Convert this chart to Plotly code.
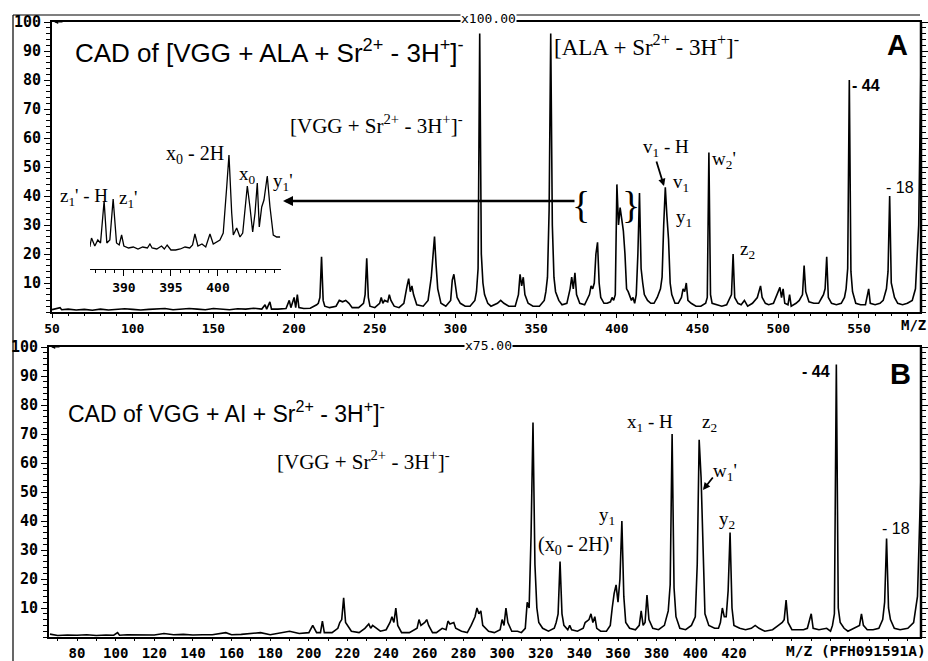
import plotly.graph_objects as go

W, H = 928, 661


def px(x):
    return x / W


def py(y):
    return 1 - y / H


# ---------------- data ----------------
# Panel A profile: (m/z, relative intensity %)
a_profile = [
    (50, 0.8), (55, 1.5), (56, 0.8), (60, 1.0), (65, 0.7), (70, 0.9), (75, 0.6), (80, 1.0),
    (85, 0.7), (90, 0.8), (95, 1.1), (100, 0.9), (105, 0.7), (110, 0.9), (115, 1.1), (120, 1.2),
    (125, 0.8), (130, 0.9), (135, 1.2), (140, 1.0), (145, 0.8), (150, 1.2), (155, 0.9),
    (160, 0.8), (165, 1.1), (170, 1.0), (175, 1.3), (180, 1.0), (182, 2.5), (183, 1.0),
    (185, 3.5), (186, 1.0), (190, 1.0), (195, 1.2), (197, 4.0), (198, 1.5), (200, 5.0),
    (201, 1.5), (202, 6.0), (203, 1.5), (206, 1.2), (210, 1.3), (214, 2.5), (215, 3.0),
    (216, 5.0), (217, 19.0), (218, 4.0), (219, 2.0), (222, 1.5), (226, 2.0), (228, 4.0),
    (230, 3.5), (232, 4.0), (234, 3.0), (236, 1.5), (240, 1.5), (243, 3.0), (244, 6.0),
    (245, 18.5), (246, 5.0), (247, 2.0), (250, 1.5), (253, 3.0), (254, 5.0), (255, 3.0),
    (256, 4.0), (258, 3.5), (259, 6.0), (260, 4.0), (262, 2.0), (265, 1.5), (268, 3.0),
    (270, 9.0), (271, 11.5), (272, 7.0), (273, 9.0), (274, 6.0), (276, 2.5), (280, 2.0),
    (283, 4.0), (285, 12.0), (286, 20.0), (287, 26.0), (288, 16.0), (289, 8.0), (291, 3.0),
    (294, 2.0), (297, 4.0), (298, 11.0), (299, 13.0), (300, 8.0), (301, 5.0), (303, 3.0),
    (306, 2.0), (309, 2.0), (312, 4.0), (313, 7.0), (314, 15.0), (315, 96.0), (316, 20.0),
    (317, 10.0), (318, 6.0), (320, 3.0), (322, 2.0), (326, 3.0), (328, 4.0), (330, 3.0),
    (333, 2.0), (337, 2.0), (339, 6.0), (340, 13.0), (341, 9.0), (342, 12.0), (343, 6.0),
    (345, 3.0), (348, 2.0), (352, 2.0), (355, 4.0), (356, 7.0), (357, 12.0), (358, 35.0),
    (359, 96.0), (360, 30.0), (361, 12.0), (362, 7.0), (364, 4.0), (366, 2.5), (369, 3.0),
    (371, 8.0), (372, 12.0), (373, 8.0), (374, 13.5), (375, 6.0), (377, 3.0), (380, 2.5),
    (383, 6.0), (384, 9.0), (385, 8.0), (386, 10.0), (387, 20.0), (388, 24.0), (389, 10.0),
    (390, 5.0), (392, 3.0), (394, 3.0), (396, 3.5), (397, 5.0), (398, 4.0), (399, 6.0),
    (400, 44.0), (401, 30.0), (402, 36.0), (403, 32.0), (404, 28.0), (405, 20.0), (406, 8.0),
    (407, 7.0), (409, 4.0), (410, 5.0), (411, 3.0), (412, 6.0), (413, 20.0), (414, 41.0),
    (415, 15.0), (416, 10.0), (417, 6.0), (419, 4.0), (421, 3.0), (423, 3.0), (425, 5.0),
    (427, 8.0), (428, 12.0), (429, 30.0), (430, 43.0), (431, 33.0), (432, 25.0), (433, 10.0),
    (434, 6.0), (436, 3.0), (438, 3.0), (440, 5.0), (441, 8.0), (442, 7.0), (443, 10.0),
    (444, 4.0), (446, 3.0), (449, 2.0), (452, 2.0), (455, 3.0), (456, 5.0), (457, 55.0),
    (458, 6.0), (459, 3.0), (462, 2.5), (465, 2.0), (468, 2.5), (471, 6.0), (472, 20.0),
    (473, 5.0), (475, 3.0), (477, 2.5), (479, 4.0), (481, 2.0), (484, 3.0), (487, 5.0),
    (489, 9.0), (490, 5.0), (492, 3.0), (494, 2.5), (497, 3.0), (499, 6.0), (501, 8.5),
    (502, 5.0), (503, 8.0), (504, 3.0), (506, 2.5), (507, 6.0), (508, 2.0), (511, 3.0),
    (513, 4.0), (515, 6.0), (516, 16.0), (517, 7.0), (519, 3.5), (522, 3.0), (525, 3.0),
    (527, 5.0), (528, 6.0), (529, 8.0), (530, 19.0), (531, 5.0), (533, 3.0), (536, 2.5),
    (539, 3.0), (541, 5.0), (542, 8.0), (543, 15.0), (544, 80.0), (545, 14.0), (546, 7.0),
    (548, 3.0), (551, 2.5), (554, 2.5), (556, 8.0), (557, 3.0), (560, 2.5), (563, 3.0),
    (565, 4.0), (567, 8.0), (568, 14.0), (569, 40.0), (570, 10.0), (572, 5.0), (574, 3.0),
    (577, 2.5), (580, 3.0), (583, 4.0), (585, 8.0), (587, 30.0), (589, 110.0),
]

# Panel B profile: (m/z, relative intensity %)
b_profile = [
    (66, 1.0), (70, 0.5), (75, 0.7), (80, 0.6), (85, 0.8), (90, 0.5), (95, 0.7), (99, 0.6),
    (101, 1.5), (102, 0.6), (106, 0.8), (110, 0.8), (115, 0.6), (120, 0.7), (125, 1.2),
    (130, 0.8), (135, 0.9), (140, 0.7), (145, 0.8), (150, 0.8), (157, 1.5), (160, 0.8),
    (165, 0.9), (170, 1.2), (175, 1.5), (180, 0.8), (186, 1.5), (190, 2.0), (195, 1.2),
    (200, 1.5), (202, 4.0), (204, 1.5), (206, 1.5), (207, 5.5), (208, 1.5), (212, 1.5),
    (215, 3.0), (216, 5.0), (217, 6.0), (218, 13.5), (219, 5.0), (220, 4.0), (222, 2.0),
    (226, 1.5), (229, 3.0), (231, 4.5), (232, 3.0), (233, 4.0), (235, 3.0), (237, 2.0),
    (240, 2.5), (242, 5.0), (243, 7.0), (244, 5.0), (245, 10.0), (246, 4.0), (248, 1.5),
    (252, 1.5), (256, 3.0), (257, 6.0), (258, 4.0), (260, 5.0), (261, 6.0), (262, 4.0),
    (264, 1.5), (266, 1.5), (269, 3.0), (271, 2.5), (272, 5.5), (273, 4.5), (275, 5.0),
    (276, 3.0), (279, 2.0), (282, 1.5), (284, 4.0), (286, 7.0), (287, 10.0), (288, 8.0),
    (289, 9.0), (290, 4.0), (293, 2.0), (296, 1.5), (299, 2.5), (300, 6.0), (301, 4.0),
    (302, 10.0), (303, 5.0), (305, 2.0), (308, 2.0), (310, 1.5), (312, 3.0), (313, 12.0),
    (314, 10.0), (315, 35.0), (316, 74.0), (317, 25.0), (318, 10.0), (319, 5.0), (321, 3.0),
    (324, 2.0), (327, 3.0), (328, 5.0), (329, 8.0), (330, 26.0), (331, 8.0), (332, 4.0),
    (334, 2.5), (335, 4.0), (336, 2.5), (339, 2.0), (342, 3.0), (343, 5.0), (345, 6.0),
    (346, 8.0), (347, 5.0), (348, 7.0), (349, 3.0), (351, 2.0), (354, 2.0), (356, 4.0),
    (357, 10.0), (358, 15.0), (359, 18.0), (360, 12.0), (361, 20.0), (362, 40.0), (363, 14.0),
    (364, 5.0), (366, 3.0), (369, 2.5), (371, 4.0), (372, 9.0), (373, 4.0), (374, 5.0),
    (375, 14.5), (376, 6.0), (378, 3.0), (381, 2.5), (384, 4.0), (385, 7.0), (386, 9.0),
    (387, 18.0), (388, 70.0), (389, 17.0), (390, 7.0), (392, 3.0), (395, 2.5), (398, 4.0),
    (400, 7.0), (401, 25.0), (402, 68.0), (403, 55.0), (404, 30.0), (405, 8.0), (407, 4.0),
    (410, 3.0), (412, 3.0), (413, 5.0), (414, 10.0), (415, 7.0), (416, 7.0), (417, 16.0),
    (418, 36.0), (419, 10.0), (420, 4.0), (423, 3.0), (426, 2.5), (429, 3.0), (431, 4.0),
    (433, 3.0), (436, 2.0), (440, 2.5), (443, 4.0), (445, 5.0), (446, 6.0), (447, 12.7),
    (448, 5.0), (450, 2.5), (453, 2.5), (456, 2.5), (458, 3.0), (460, 8.0), (461, 3.0),
    (464, 2.5), (468, 3.0), (470, 2.0), (471, 4.0), (472, 8.0), (473, 94.0), (474, 10.0),
    (475, 5.0), (477, 3.0), (479, 2.0), (482, 3.0), (485, 4.0), (486, 8.0), (487, 4.0),
    (489, 2.5), (492, 2.5), (495, 3.0), (497, 6.0), (498, 12.0), (499, 34.0), (500, 10.0),
    (501, 6.0), (503, 3.0), (506, 2.5), (510, 3.0), (513, 5.0), (515, 14.0), (517, 60.0),
    (518, 110.0),
]

# Inset of panel A (m/z 386-407), arbitrary units
inset_profile = [
    (386.38, 22), (386.56, 31), (386.91, 23), (387.23, 29), (387.52, 26), (387.9, 68),
    (388.19, 26), (388.51, 29), (388.86, 70), (389.22, 26), (389.5, 24), (389.76, 34),
    (390.0, 23), (390.5, 21), (391.0, 22), (391.5, 20), (392.0, 22), (392.5, 21),
    (392.77, 25), (393.0, 21), (393.5, 20), (394.0, 23), (394.3, 20), (394.6, 24),
    (395.0, 19), (395.5, 19), (396.0, 20), (396.5, 22), (397.0, 21), (397.3, 24),
    (397.55, 35), (397.87, 23), (398.3, 25), (398.7, 22), (399.15, 35), (399.5, 25),
    (400.21, 29), (400.56, 36), (400.93, 82), (401.17, 114), (401.46, 56), (401.63, 34),
    (401.99, 41), (402.34, 32), (402.63, 36), (402.87, 62), (403.12, 83), (403.4, 62),
    (403.69, 37), (403.94, 56), (404.18, 86), (404.39, 42), (404.65, 62), (404.89, 69),
    (405.24, 93), (405.53, 62), (405.88, 34), (406.24, 32), (406.6, 32),
]

a_mz = [p[0] for p in a_profile]
a_int = [p[1] for p in a_profile]
b_mz = [p[0] for p in b_profile]
b_int = [p[1] for p in b_profile]
i_mz = [p[0] for p in inset_profile]
i_int = [p[1] for p in inset_profile]

a_xticks = [50, 100, 150, 200, 250, 300, 350, 400, 450, 500, 550]
b_xticks = [80, 100, 120, 140, 160, 180, 200, 220, 240, 260, 280, 300, 320, 340, 360, 380, 400, 420]
y_ticks = [10, 20, 30, 40, 50, 60, 70, 80, 90, 100]
inset_ticks = [390, 395, 400]

# ---------------- figure ----------------
MONO_FAM = "DejaVu Sans Mono"
SANS = "Liberation Sans"
SERIF = "Liberation Serif"
LINE = dict(color="black", width=1.6)


def mono(size):
    return dict(family=MONO_FAM, size=size, color="black", weight="bold")


fig = go.Figure()
fig.add_trace(go.Scatter(x=a_mz, y=a_int, mode="lines", line=LINE, xaxis="x", yaxis="y", hoverinfo="skip"))
fig.add_trace(go.Scatter(x=b_mz, y=b_int, mode="lines", line=LINE, xaxis="x2", yaxis="y2", hoverinfo="skip"))
fig.add_trace(go.Scatter(x=i_mz, y=i_int, mode="lines", line=dict(color="black", width=1.3),
                         xaxis="x3", yaxis="y3", hoverinfo="skip"))


def xax(domain, rng, anchor, tickvals, minor_dtick, fsize, tlen):
    return dict(domain=domain, range=rng, anchor=anchor, tickvals=tickvals, ticktext=[str(v) for v in tickvals],
                showline=True, linecolor="black", linewidth=1.5, mirror=True,
                ticks="outside", ticklen=tlen, tickwidth=1, tickcolor="black",
                minor=dict(dtick=minor_dtick, tick0=0, ticks="outside", ticklen=2, tickcolor="black", showgrid=False),
                showgrid=False, zeroline=False, tickfont=mono(fsize), fixedrange=True)


def yax(domain, anchor):
    return dict(domain=domain, range=[0, 100], anchor=anchor, tickvals=y_ticks, ticktext=[str(v) for v in y_ticks],
                showline=True, linecolor="black", linewidth=2, mirror="allticks",
                ticks="outside", ticklen=6, tickwidth=1.2, tickcolor="black",
                minor=dict(dtick=2, tick0=0, ticks="outside", ticklen=4, tickwidth=1.2, tickcolor="black",
                           showgrid=False),
                showgrid=False, zeroline=False, tickfont=mono(15), fixedrange=True)


fig.update_layout(
    width=W, height=H, margin=dict(l=0, r=0, t=0, b=0, autoexpand=False),
    paper_bgcolor="white", plot_bgcolor="rgba(0,0,0,0)", showlegend=False,
    xaxis=xax([px(52), px(920)], [50, 587.8], "y", a_xticks, 10, 13, 4),
    yaxis=yax([py(312), py(22)], "x"),
    xaxis2=xax([px(49), px(920)], [65.5, 516.3], "y2", b_xticks, 10, 14, 2),
    yaxis2=yax([py(637), py(347)], "x2"),
    xaxis3=dict(domain=[px(90), px(281)], range=[386.4, 406.7], anchor="y3", tickvals=inset_ticks,
                showline=True, linecolor="black", linewidth=1.2, ticks="outside", ticklen=6,
                tickcolor="black", minor=dict(dtick=1, tick0=0, ticks="outside", ticklen=3, tickcolor="black"),
                showgrid=False, zeroline=False, tickfont=mono(13), fixedrange=True),
    yaxis3=dict(domain=[py(269), py(150)], range=[0, 119], anchor="x3", visible=False, fixedrange=True),
)

# outer border (left and top)
fig.add_shape(type="line", xref="paper", yref="paper", x0=px(13), x1=px(13), y0=py(15), y1=0,
              line=dict(color="black", width=1.2))
fig.add_shape(type="line", xref="paper", yref="paper", x0=px(13), x1=px(920), y0=py(15), y1=py(15),
              line=dict(color="black", width=1.2))
# heavy right-hand frame of each panel
for y_top, y_bot in ((22, 312), (347, 637)):
    fig.add_shape(type="line", xref="paper", yref="paper", x0=px(921), x1=px(921), y0=py(y_top), y1=py(y_bot),
                  line=dict(color="black", width=2.5))


def T(text, x, y, size, family=SANS, xanchor="left", bold=False, bg=None):
    fig.add_annotation(text=text, x=px(x), y=py(y), xref="paper", yref="paper", showarrow=False,
                       xanchor=xanchor, yanchor="middle",
                       font=dict(family=family, size=size, color="black", weight="bold" if bold else "normal"),
                       bgcolor=bg, borderpad=0)


def ARROW(x_head, y_head, x_tail, y_tail, width=1.5, head=2, size=1.0):
    fig.add_annotation(text="", x=px(x_head), y=py(y_head), xref="paper", yref="paper",
                       ax=x_tail - x_head, ay=y_tail - y_head, axref="pixel", ayref="pixel",
                       showarrow=True, arrowhead=head, arrowwidth=width, arrowsize=size, arrowcolor="black")


# ---- Panel A texts
T("CAD of [VGG + ALA + Sr<sup>2+</sup> - 3H<sup>+</sup>]<sup>-</sup>", 74, 52, 26)
T("[VGG + Sr<sup>2+</sup> - 3H<sup>+</sup>]<sup>-</sup>", 289, 124, 21, SERIF)
T("[ALA + Sr<sup>2+</sup> - 3H<sup>+</sup>]<sup>-</sup>", 553, 45, 23, SERIF)
T("A", 897, 45, 29, xanchor="center", bold=True)
T("- 44", 851, 85, 16, bold=True)
T("- 18", 885, 187, 16)
T("v<sub>1</sub> - H", 642, 148, 19, SERIF)
T("v<sub>1</sub>", 672, 183, 19, SERIF)
T("y<sub>1</sub>", 675, 218, 19, SERIF)
T("w<sub>2</sub>'", 711, 160, 19, SERIF)
T("z<sub>2</sub>", 739, 250, 19, SERIF)
T("x<sub>0</sub> - 2H", 165, 155, 20, SERIF)
T("x<sub>0</sub>", 238, 175, 19, SERIF)
T("y<sub>1</sub>'", 272, 182, 19, SERIF)
T("z<sub>1</sub>' - H", 59, 197, 19, SERIF)
T("z<sub>1</sub>'", 118, 199, 19, SERIF)
T("{", 581, 205, 38, SERIF, xanchor="center")
T("}", 631, 205, 38, SERIF, xanchor="center")
T("M/Z", 900, 325, 14, MONO_FAM, bold=True)
T("x100.00", 488, 18, 13, MONO_FAM, xanchor="center", bg="white")
ARROW(283, 201, 576, 201, width=2.5, head=2, size=0.8)
ARROW(664, 186, 656, 160, width=1.8, head=2, size=0.8)
ARROW(54, 22, 64, 22, width=1.2, head=2, size=0.7)

# ---- Panel B texts
T("CAD of VGG + AI + Sr<sup>2+</sup> - 3H<sup>+</sup>]<sup>-</sup>", 67, 412, 23)
T("[VGG + Sr<sup>2+</sup> - 3H<sup>+</sup>]<sup>-</sup>", 276, 460, 21, SERIF)
T("(x<sub>0</sub> - 2H)'", 575, 545, 20, SERIF, xanchor="center")
T("y<sub>1</sub>", 598, 516, 19, SERIF)
T("x<sub>1</sub> - H", 626, 423, 19, SERIF)
T("z<sub>2</sub>", 701, 423, 19, SERIF)
T("w<sub>1</sub>'", 712, 472, 19, SERIF)
T("y<sub>2</sub>", 718, 520, 19, SERIF)
T("- 44", 801, 372, 16, bold=True)
T("- 18", 881, 528, 16)
T("B", 900, 374, 29, xanchor="center", bold=True)
T("x75.00", 488, 345, 13, MONO_FAM, xanchor="center", bg="white")
T("M/Z (PFH091591A)", 927, 651, 14.5, MONO_FAM, xanchor="right", bold=True, bg="white")
ARROW(703, 490, 714, 476, width=1.8, head=2, size=0.8)
ARROW(51, 347, 61, 347, width=1.2, head=2, size=0.7)

# remove the default 8 px page margin so the 928x661 figure fills the window exactly
fig.write_html("out.html", config={"displayModeBar": False},
               post_script="document.body.style.margin='0px';document.body.style.overflow='hidden';")
